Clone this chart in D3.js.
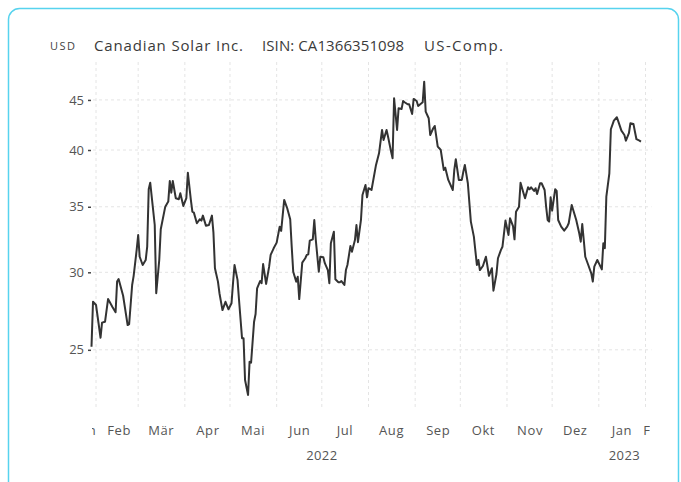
<!DOCTYPE html>
<html>
<head>
<meta charset="utf-8">
<script src="https://cdn.jsdelivr.net/npm/d3@7"></script>
<style>
  body { margin: 0; background: #fff; }
  svg { display: block; font-family: "Open Sans", sans-serif; }
</style>
</head>
<body>
<svg id="chart" width="681" height="482"></svg>
<script>
// Canadian Solar Inc. closing prices (USD)
const dates = [
  "2022-01-29","2022-01-30","2022-02-01","2022-02-04","2022-02-05","2022-02-07","2022-02-09","2022-02-12","2022-02-14","2022-02-15",
  "2022-02-16","2022-02-19","2022-02-22","2022-02-23","2022-02-25","2022-02-26","2022-02-28","2022-03-01","2022-03-02","2022-03-04",
  "2022-03-06","2022-03-07","2022-03-08","2022-03-09","2022-03-12","2022-03-13","2022-03-15","2022-03-16","2022-03-19","2022-03-21",
  "2022-03-22","2022-03-23","2022-03-24","2022-03-26","2022-03-28","2022-03-29","2022-03-31","2022-04-02","2022-04-03","2022-04-05",
  "2022-04-06","2022-04-07","2022-04-09","2022-04-11","2022-04-12","2022-04-13","2022-04-15","2022-04-17","2022-04-19","2022-04-20",
  "2022-04-21","2022-04-23","2022-04-24","2022-04-26","2022-04-28","2022-04-30","2022-05-02","2022-05-03","2022-05-04","2022-05-06",
  "2022-05-07","2022-05-09","2022-05-10","2022-05-11","2022-05-13","2022-05-14","2022-05-15","2022-05-17","2022-05-18","2022-05-19",
  "2022-05-21","2022-05-22","2022-05-23","2022-05-25","2022-05-27","2022-05-28","2022-05-30","2022-06-01","2022-06-03","2022-06-04",
  "2022-06-06","2022-06-08","2022-06-10","2022-06-11","2022-06-12","2022-06-14","2022-06-15","2022-06-16","2022-06-18","2022-06-20",
  "2022-06-21","2022-06-22","2022-06-23","2022-06-25","2022-06-26","2022-06-27","2022-06-29","2022-06-30","2022-07-02","2022-07-03",
  "2022-07-05","2022-07-06","2022-07-07","2022-07-09","2022-07-10","2022-07-12","2022-07-13","2022-07-14","2022-07-16","2022-07-17",
  "2022-07-18","2022-07-20","2022-07-21","2022-07-23","2022-07-24","2022-07-25","2022-07-27","2022-07-28","2022-07-30","2022-07-31",
  "2022-08-01","2022-08-03","2022-08-06","2022-08-08","2022-08-10","2022-08-11","2022-08-13","2022-08-14","2022-08-16","2022-08-17",
  "2022-08-18","2022-08-20","2022-08-21","2022-08-23","2022-08-24","2022-08-25","2022-08-27","2022-08-28","2022-08-30","2022-08-31",
  "2022-09-02","2022-09-03","2022-09-06","2022-09-07","2022-09-08","2022-09-10","2022-09-11","2022-09-13","2022-09-14","2022-09-16",
  "2022-09-17","2022-09-18","2022-09-20","2022-09-21","2022-09-23","2022-09-26","2022-09-27","2022-09-28","2022-09-30","2022-10-02",
  "2022-10-03","2022-10-04","2022-10-06","2022-10-08","2022-10-10","2022-10-12","2022-10-13","2022-10-14","2022-10-16","2022-10-18",
  "2022-10-19","2022-10-20","2022-10-22","2022-10-23","2022-10-25","2022-10-26","2022-10-28","2022-10-29","2022-10-31","2022-11-02",
  "2022-11-03","2022-11-05","2022-11-06","2022-11-07","2022-11-09","2022-11-10","2022-11-12","2022-11-13","2022-11-15","2022-11-16",
  "2022-11-17","2022-11-19","2022-11-20","2022-11-21","2022-11-23","2022-11-24","2022-11-26","2022-11-27","2022-11-28","2022-11-29",
  "2022-11-30","2022-12-01","2022-12-03","2022-12-04","2022-12-05","2022-12-07","2022-12-09","2022-12-11","2022-12-12","2022-12-14",
  "2022-12-15","2022-12-17","2022-12-19","2022-12-20","2022-12-21","2022-12-22","2022-12-23","2022-12-25","2022-12-27","2022-12-28",
  "2022-12-29","2022-12-31","2023-01-01","2023-01-03","2023-01-04","2023-01-05","2023-01-06","2023-01-08","2023-01-09","2023-01-11",
  "2023-01-13","2023-01-14","2023-01-16","2023-01-18","2023-01-19","2023-01-21","2023-01-22","2023-01-24","2023-01-25","2023-01-26",
  "2023-01-28","2023-01-29"
];
const closes = [
  25.18,27.99,27.78,25.72,26.65,26.71,28.17,27.63,27.31,29.35,
  29.53,28.39,26.50,26.56,29.12,29.75,31.62,32.75,31.12,30.52,
  30.88,31.86,36.47,37.04,33.53,28.56,30.88,33.20,35.01,35.43,
  37.19,36.18,37.19,35.71,35.63,36.13,35.07,35.71,37.92,35.57,
  34.60,34.52,33.67,33.99,33.88,34.28,33.48,33.53,34.28,32.93,
  30.29,29.35,28.56,27.45,27.99,27.50,27.89,29.24,30.52,29.47,
  28.11,25.69,25.69,23.29,22.48,24.31,24.25,26.71,27.20,28.89,
  29.39,29.24,30.59,29.19,30.40,31.25,31.74,32.17,33.40,33.07,
  35.57,34.88,33.99,31.86,30.04,29.35,29.69,28.17,30.69,31.01,
  31.25,31.30,32.32,32.42,33.93,32.37,30.04,31.12,31.08,30.65,
  30.16,29.24,32.12,33.01,29.51,29.31,29.31,29.39,29.12,30.16,
  30.52,31.92,31.49,32.37,33.53,32.20,33.93,35.99,36.84,35.79,
  36.56,36.41,38.62,39.69,41.93,40.96,41.93,41.27,39.85,39.23,
  45.18,41.93,44.13,44.06,44.89,44.76,44.54,44.54,43.54,45.11,
  44.89,44.37,44.76,46.98,43.78,43.10,41.44,42.10,42.33,40.32,
  40.17,40.00,38.17,38.37,37.28,36.41,38.17,39.14,37.28,37.28,
  38.01,38.62,36.99,33.80,32.63,30.52,30.88,30.16,30.45,31.12,
  30.45,29.75,30.29,28.73,29.88,31.01,31.62,31.86,33.88,32.75,
  34.07,33.45,32.42,34.60,35.01,37.04,36.13,35.71,36.64,36.47,
  36.64,36.33,36.56,36.07,36.99,36.99,36.41,35.01,33.93,33.80,
  35.79,34.68,36.47,36.33,33.93,33.40,33.09,33.40,33.67,35.15,
  34.74,33.93,32.89,32.24,33.61,32.37,31.12,30.52,29.93,29.35,
  30.40,30.88,30.65,30.21,32.12,31.74,35.84,37.87,42.00,42.86,
  43.20,42.76,41.86,41.44,40.89,41.61,42.60,42.53,41.76,41.03,
  40.89,40.80
];

const yTicks = [25, 30, 35, 40, 45];
const monthNames = ["Jan","Feb","Mär","Apr","Mai","Jun","Jul","Aug","Sep","Okt","Nov","Dez"];
const gridMonths = ["2022-02-01","2022-03-01","2022-04-01","2022-05-01","2022-06-01","2022-07-01","2022-08-01",
  "2022-09-01","2022-10-01","2022-11-01","2022-12-01","2023-01-01","2023-02-01"];
const yearLabels = [["2022","2022-07-01"],["2023","2023-01-18"]];
const headerParts = ["Canadian Solar Inc.", "ISIN: CA1366351098", "US-Comp."];

const parse = d3.timeParse("%Y-%m-%d");
const series = dates.map((d, i) => ({date: parse(d), value: closes[i]}));

const svg = d3.select("#chart");
const plot = {left: 90, right: 651.5, top: 62, bottom: 410};

// card frame
svg.append("rect")
  .attr("x", 8.5).attr("y", 8.5)
  .attr("width", 670).attr("height", 520)
  .attr("rx", 11)
  .attr("fill", "#fff")
  .attr("stroke", "#57d3ee")
  .attr("stroke-width", 1.5);

// header
svg.append("text").attr("x", 50).attr("y", 50)
  .attr("font-size", 11).attr("fill", "#444")
  .attr("textLength", 25).text("USD");
const headerX = [94, 262, 424];
const headerW = [149, 142, 79];
headerParts.forEach((t, i) => {
  svg.append("text").attr("x", headerX[i]).attr("y", 51)
    .attr("font-size", 15).attr("fill", "#3a3a3a")
    .attr("textLength", headerW[i]).attr("lengthAdjust", "spacing")
    .text(t);
});

const x = d3.scaleTime()
  .domain([parse("2022-01-28"), parse("2023-02-05")])
  .range([plot.left, plot.right]);

const y = d3.scaleLog()
  .domain([21.7, 49.2])
  .range([plot.bottom, plot.top]);

// grid
const grid = svg.append("g").attr("stroke", "#e4e4e4").attr("stroke-dasharray", "3,3");
grid.selectAll("line.v")
  .data(gridMonths.map(parse))
  .enter().append("line")
  .attr("class", "v")
  .attr("x1", d => x(d)).attr("x2", d => x(d))
  .attr("y1", plot.top).attr("y2", plot.bottom);
grid.selectAll("line.h")
  .data(yTicks)
  .enter().append("line")
  .attr("class", "h")
  .attr("x1", plot.left + 3).attr("x2", plot.right)
  .attr("y1", d => y(d)).attr("y2", d => y(d));

// y axis
const yAxis = d3.axisLeft(y)
  .tickValues(yTicks)
  .tickFormat(d3.format("d"))
  .tickSize(3)
  .tickPadding(4);
const yg = svg.append("g")
  .attr("transform", "translate(" + (plot.left + 1) + ",0)")
  .call(yAxis);
yg.select(".domain").remove();
yg.selectAll(".tick line").attr("stroke", "#444").attr("stroke-width", 1.5);
yg.selectAll(".tick text").attr("font-size", 13).attr("fill", "#555")
  .attr("font-family", "'Open Sans', sans-serif");

// x axis month labels (mid-month), clipped to the plot width
svg.append("clipPath").attr("id", "xclip")
  .append("rect").attr("x", 92).attr("y", 415).attr("width", 558).attr("height", 30);

const labelDates = [parse("2022-01-25")]
  .concat(gridMonths.slice(0, 12).map(d => d3.timeDay.offset(parse(d), 15)))
  .concat([parse("2023-02-07")]);

const xAxis = d3.axisBottom(x)
  .tickValues(labelDates)
  .tickFormat(d => monthNames[d.getMonth()])
  .tickSize(0)
  .tickPadding(0);
const xg = svg.append("g")
  .attr("clip-path", "url(#xclip)")
  .append("g")
  .attr("transform", "translate(0,426)")
  .call(xAxis);
xg.select(".domain").remove();
xg.selectAll(".tick text").attr("font-size", 13).attr("fill", "#555")
  .attr("letter-spacing", 0.6)
  .attr("font-family", "'Open Sans', sans-serif");

svg.selectAll("text.year")
  .data(yearLabels)
  .enter().append("text")
  .attr("class", "year")
  .attr("x", d => x(parse(d[1])))
  .attr("y", 460)
  .attr("text-anchor", "middle")
  .attr("font-size", 13).attr("fill", "#555")
  .attr("letter-spacing", 0.4)
  .text(d => d[0]);

// price line
const line = d3.line()
  .x(d => x(d.date))
  .y(d => y(d.value));

svg.append("path")
  .datum(series)
  .attr("d", line)
  .attr("fill", "none")
  .attr("stroke", "#333")
  .attr("stroke-width", 2)
  .attr("stroke-linejoin", "round");
</script>
</body>
</html>
